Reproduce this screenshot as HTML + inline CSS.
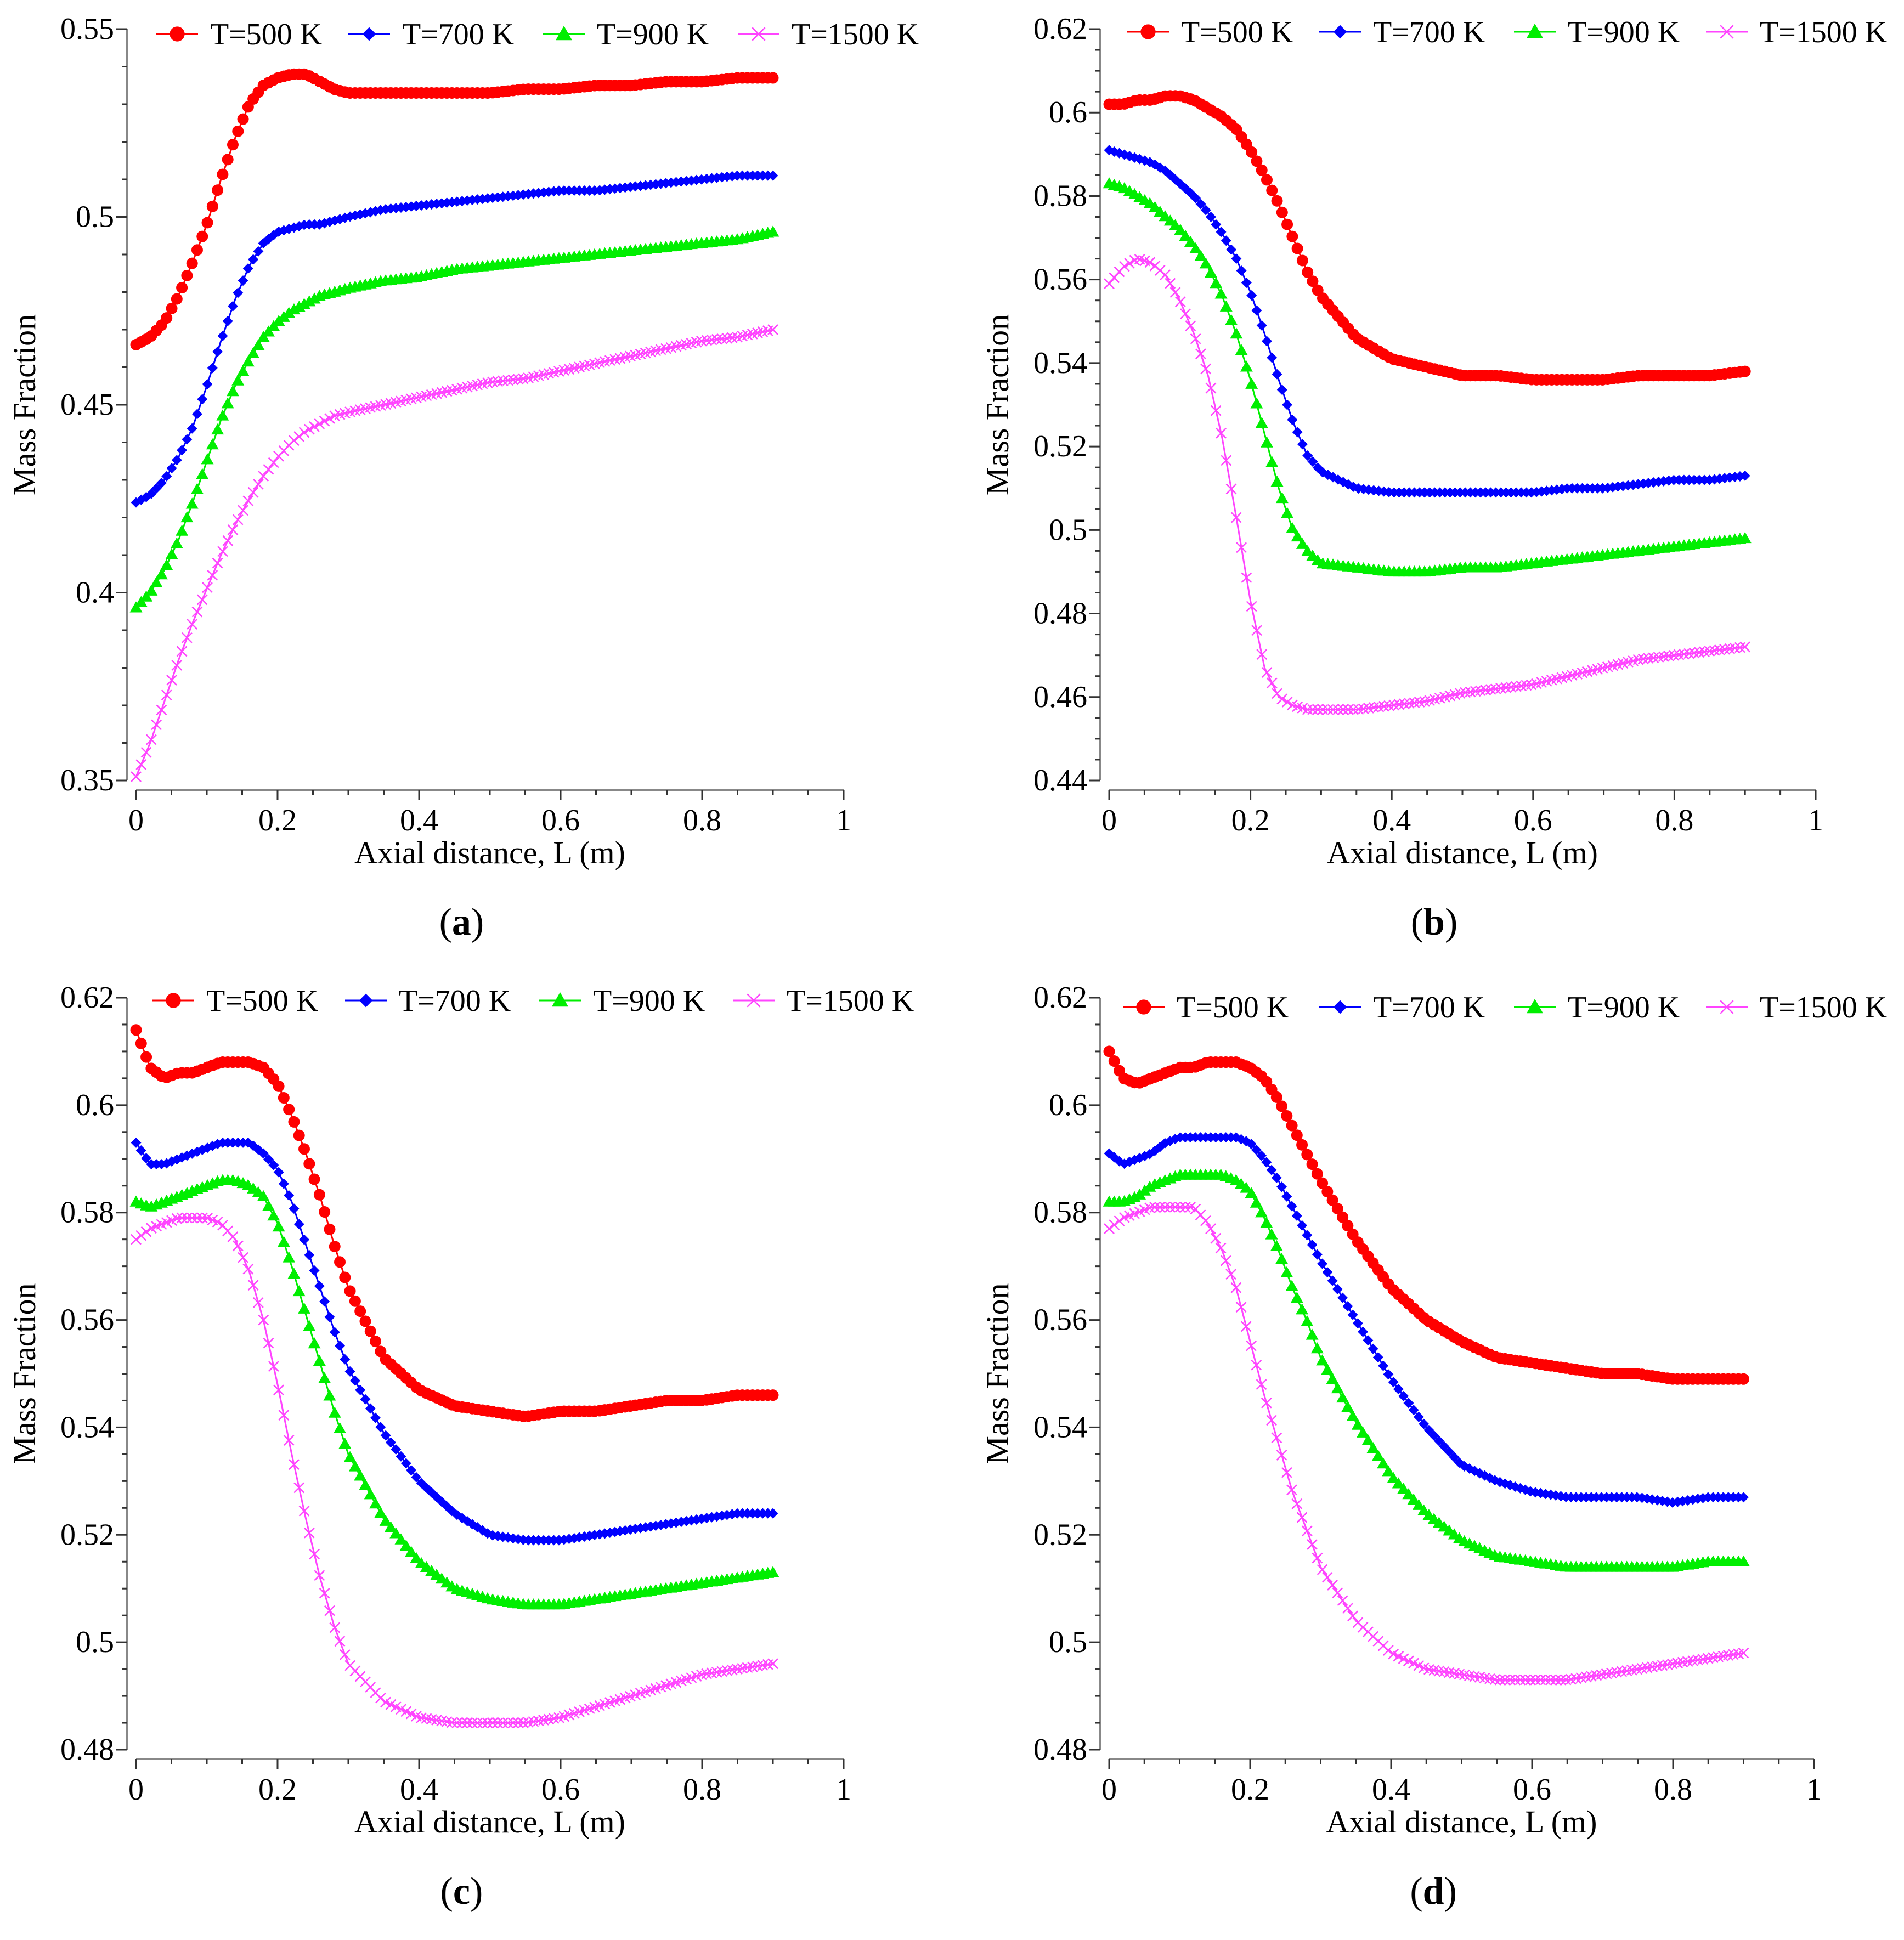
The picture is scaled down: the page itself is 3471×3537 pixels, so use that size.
<!DOCTYPE html>
<html><head><meta charset="utf-8">
<style>
html,body{margin:0;padding:0;background:#fff;}
svg{display:block;}
svg text{font-family:"Liberation Serif","Times New Roman",Times,"DejaVu Serif",serif;fill:#000;}
</style></head>
<body>
<svg id="fig" width="3471" height="3537" viewBox="0 0 3471 3537" xmlns="http://www.w3.org/2000/svg"></svg>
<script>
const xVals = [0,.02,.04,.06,.08,.1,.12,.14,.16,.18,.2,.22,.24,.26,.28,.3,.35,.4,.45,.5,.55,.6,.65,.7,.75,.8,.85,.9];
const seriesNames = ["T=500 K","T=700 K","T=900 K","T=1500 K"];
const aRed = [.466,.468,.472,.479,.488,.498,.510,.521,.530,.535,.537,.538,.538,.536,.534,.533,.533,.533,.533,.533,.534,.534,.535,.535,.536,.536,.537,.537];
const aBlue = [.424,.426,.430,.436,.444,.455,.467,.478,.487,.493,.496,.497,.498,.498,.499,.500,.502,.503,.504,.505,.506,.507,.507,.508,.509,.510,.511,.511];
const aGreen = [.396,.400,.406,.414,.424,.435,.446,.455,.462,.468,.472,.475,.477,.479,.480,.481,.483,.484,.486,.487,.488,.489,.490,.491,.492,.493,.494,.496];
const aMag = [.351,.360,.371,.382,.392,.401,.410,.418,.425,.431,.436,.440,.443,.445,.447,.448,.450,.452,.454,.456,.457,.459,.461,.463,.465,.467,.468,.470];
const bRed = [.602,.602,.603,.603,.604,.604,.603,.601,.599,.596,.591,.585,.578,.570,.562,.556,.546,.541,.539,.537,.537,.536,.536,.536,.537,.537,.537,.538];
const bBlue = [.591,.590,.589,.588,.586,.583,.580,.576,.571,.565,.557,.547,.536,.526,.518,.514,.510,.509,.509,.509,.509,.509,.510,.510,.511,.512,.512,.513];
const bGreen = [.583,.582,.580,.578,.575,.572,.568,.563,.556,.547,.536,.523,.510,.500,.495,.492,.491,.490,.490,.491,.491,.492,.493,.494,.495,.496,.497,.498];
const bMag = [.559,.563,.565,.564,.561,.555,.547,.537,.522,.503,.483,.467,.460,.458,.457,.457,.457,.458,.459,.461,.462,.463,.465,.467,.469,.470,.471,.472];
const cRed = [.614,.607,.605,.606,.606,.607,.608,.608,.608,.607,.604,.598,.591,.583,.574,.566,.553,.547,.544,.543,.542,.543,.543,.544,.545,.545,.546,.546];
const cBlue = [.593,.589,.589,.590,.591,.592,.593,.593,.593,.591,.588,.582,.574,.566,.558,.551,.539,.530,.524,.520,.519,.519,.520,.521,.522,.523,.524,.524];
const cGreen = [.582,.581,.582,.583,.584,.585,.586,.586,.585,.583,.578,.570,.561,.552,.543,.535,.523,.515,.510,.508,.507,.507,.508,.509,.510,.511,.512,.513];
const cMag = [.575,.577,.578,.579,.579,.579,.578,.575,.569,.560,.548,.535,.523,.512,.503,.496,.489,.486,.485,.485,.485,.486,.488,.490,.492,.494,.495,.496];
const dRed = [.610,.605,.604,.605,.606,.607,.607,.608,.608,.608,.607,.605,.601,.596,.591,.586,.575,.566,.560,.556,.553,.552,.551,.550,.550,.549,.549,.549];
const dBlue = [.591,.589,.590,.591,.593,.594,.594,.594,.594,.594,.593,.590,.586,.581,.576,.571,.560,.549,.540,.533,.530,.528,.527,.527,.527,.526,.527,.527];
const dGreen = [.582,.582,.583,.585,.586,.587,.587,.587,.587,.586,.584,.579,.573,.566,.560,.553,.541,.531,.524,.519,.516,.515,.514,.514,.514,.514,.515,.515];
const dMag = [.577,.579,.580,.581,.581,.581,.581,.578,.573,.566,.556,.546,.537,.528,.521,.514,.504,.498,.495,.494,.493,.493,.493,.494,.495,.496,.497,.498];
const xTicks = ["0","0.2","0.4","0.6","0.8","1"];
const aYTicks = ["0.35","0.4","0.45","0.5","0.55"];
const bYTicks = ["0.44","0.46","0.48","0.5","0.52","0.54","0.56","0.58","0.6","0.62"];
const cdYTicks = ["0.48","0.5","0.52","0.54","0.56","0.58","0.6","0.62"];

const NS="http://www.w3.org/2000/svg";
const svg=document.getElementById('fig');
const colors=["#ff0000","#0000ff","#00ee00","#ff44ff"];
const markers=["circle","diamond","triangle","cross"];
function el(tag,attrs,parent){const e=document.createElementNS(NS,tag);for(const k in attrs)e.setAttribute(k,attrs[k]);(parent||svg).appendChild(e);return e;}

function marker(g,type,x,y,c,s){
  let m;
  if(type==="circle"){m=el('circle',{cx:x,cy:y,r:10.5*s,fill:c},g);}
  else if(type==="diamond"){const r=9.5*s;m=el('polygon',{points:`${x},${y-r} ${x+r},${y} ${x},${y+r} ${x-r},${y}`,fill:c},g);}
  else if(type==="triangle"){const r=11.5*s;m=el('polygon',{points:`${x},${y-r} ${x+r},${y+r*0.75} ${x-r},${y+r*0.75}`,fill:c},g);}
  else {const r=9*s;m=el('path',{d:`M${x-r},${y-r}L${x+r},${y+r}M${x-r},${y+r}L${x+r},${y-r}`,stroke:c,'stroke-width':2.5,fill:'none'},g);}
  
  
  return m;
}
function txt(parent,attrs,content){const t=el('text',attrs,parent);t.textContent=content;return t;}

function panel(p){
  const g=el('g',{});
  
  
  const X=v=>p.x0+v*p.xs;
  const Y=v=>p.yTop+(p.yMax-v)/(p.yMax-p.yMin)*(p.yBot-p.yTop);
  const ya=el('line',{x1:p.ax,y1:p.yTop,x2:p.ax,y2:p.yBot,stroke:'#888','stroke-width':4},g);
  
  
  const nMinor=Math.round((p.yMax-p.yMin)/p.yMinor);
  for(let i=0;i<=nMinor;i++){
    const v=p.yMin+i*p.yMinor;const y=Y(v);
    const isMajor=Math.abs(((v-p.yMin)/p.yMajor)-Math.round((v-p.yMin)/p.yMajor))<1e-6;
    el('line',{x1:p.ax-(isMajor?20:9),y1:y,x2:p.ax,y2:y,stroke:'#333','stroke-width':3},g);
  }
  p.yTicks.forEach(t=>{
    const tx=txt(g,{x:p.ax-24,y:Y(parseFloat(t))+18,'font-size':56,'text-anchor':'end'},t);
    
    
  });
  const xa=el('line',{x1:X(0),y1:p.xAxisY,x2:X(1),y2:p.xAxisY,stroke:'#888','stroke-width':4},g);
  
  
  for(let i=0;i<=20;i++){
    const x=X(i*0.05);const major=i%4===0;
    el('line',{x1:x,y1:p.xAxisY,x2:x,y2:p.xAxisY+(major?18:10),stroke:'#333','stroke-width':3},g);
  }
  xTicks.forEach(t=>{
    const tx=txt(g,{x:X(parseFloat(t)),y:p.xAxisY+74,'font-size':56,'text-anchor':'middle'},t);
    
    
  });
  const xt=txt(g,{x:X(0.5)+0,y:p.xAxisY+134,'font-size':58,'text-anchor':'middle'},"Axial distance, L (m)");
  
  
  const cy=(p.yTop+p.yBot)/2;
  const yt=txt(g,{x:0,y:0,'font-size':58,'text-anchor':'middle',transform:`translate(${p.ax-168},${cy}) rotate(-90)`},"Mass Fraction");
  
  
  const pl=el('text',{x:X(0.46),y:p.xAxisY+264,'font-size':70,'text-anchor':'middle'},g);
  pl.innerHTML='(<tspan font-weight="bold">'+p.id+'</tspan>)';
  
  
  p.series.forEach((s,si)=>{
    const sg=el('g',{},g);
    
    
    const pts=xVals.map((xv,i)=>X(xv)+','+Y(s[i])).join(' ');
    el('polyline',{points:pts,fill:'none',stroke:colors[si],'stroke-width':3},sg);
    const n=125;
    for(let k=0;k<=n;k++){
      const xv=0.9*k/n;
      let j=0;while(j<xVals.length-2&&xVals[j+1]<xv)j++;
      const t=(xv-xVals[j])/(xVals[j+1]-xVals[j]);
      const yv=s[j]+(s[j+1]-s[j])*t;
      marker(sg,markers[si],X(xv),Y(yv),colors[si],1);
    }
  });
  p.legX.forEach((lx,i)=>{
    const lg=el('g',{},g);
    
    
    el('line',{x1:lx-38,y1:p.legY,x2:lx+38,y2:p.legY,stroke:colors[i],'stroke-width':3},lg);
    marker(lg,markers[i],lx,p.legY,colors[i],1.3);
    txt(lg,{x:lx+60,y:p.legY+19,'font-size':56},seriesNames[i]);
  });
}

const dx=1774;
panel({id:'a',ax:232,x0:248,xs:1290,yTop:53,yBot:1423,yMin:.35,yMax:.55,yMajor:.05,yMinor:.01,xAxisY:1440,yTicks:aYTicks,series:[aRed,aBlue,aGreen,aMag],legX:[323,673,1028,1383],legY:62});
panel({id:'b',ax:232+dx,x0:248+dx,xs:1288,yTop:53,yBot:1423,yMin:.44,yMax:.62,yMajor:.02,yMinor:.005,xAxisY:1440,yTicks:bYTicks,series:[bRed,bBlue,bGreen,bMag],legX:[2093,2443,2798,3148],legY:58});
panel({id:'c',ax:232,x0:248,xs:1290,yTop:1819,yBot:3190,yMin:.48,yMax:.62,yMajor:.02,yMinor:.005,xAxisY:3207,yTicks:cdYTicks,series:[cRed,cBlue,cGreen,cMag],legX:[316,667,1021,1374],legY:1824});
panel({id:'d',ax:2006,x0:2022,xs:1285,yTop:1819,yBot:3190,yMin:.48,yMax:.62,yMajor:.02,yMinor:.005,xAxisY:3207,yTicks:cdYTicks,series:[dRed,dBlue,dGreen,dMag],legX:[2085,2443,2798,3148],legY:1836});
</script>
</body></html>
